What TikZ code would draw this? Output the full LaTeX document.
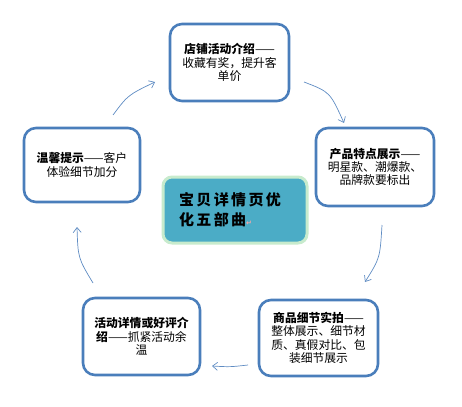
\documentclass[tikz,border=0pt]{standalone}
\usepackage{fontspec}
\newfontfamily\cjk{Noto Sans CJK SC}
\newfontfamily\dvs{DejaVu Sans}
\usetikzlibrary{arrows.meta}
\definecolor{boxblue}{RGB}{74,126,187}
\definecolor{arrblue}{RGB}{95,140,195}
\definecolor{teal}{RGB}{75,172,198}
\definecolor{lgreen}{RGB}{200,235,205}
\newcommand{\chgap}{\kern2.4pt}
\tikzset{
  box/.style={draw=boxblue, line width=2.6pt, fill=white, rounded corners=12pt,
    align=center, font=\cjk\fontsize{11.8}{13.3}\selectfont, inner sep=2pt},
  centerbox/.style={draw=lgreen, line width=3pt, fill=teal, rounded corners=9pt,
    align=left, font=\cjk\bfseries\fontsize{15}{20}\selectfont, inner xsep=16pt},
  arr/.style={draw=arrblue, line width=0.7pt, -{Straight Barb[length=5pt,width=8pt]}}
}
\begin{document}
\begin{tikzpicture}[x=1pt,y=-1pt]
\useasboundingbox (0,0) rectangle (462,406);
\node[box, minimum width=119, minimum height=77] (top) at (229.5,62.5)
  {\textbf{店铺活动介绍}——\\收藏有奖，提升客\\单价};
\node[box, minimum width=118, minimum height=78] (right) at (375,167)
  {\textbf{产品特点展示}——\\明星款、潮爆款、\\品牌款要标出};
\node[box, minimum width=119, minimum height=76] (br) at (318.5,338)
  {\textbf{商品细节实拍}——\\整体展示、细节材\\质、真假对比、包\\装细节展示};
\node[box, minimum width=117, minimum height=77] (bl) at (141.5,336.5)
  {\textbf{活动详情或好评介}\\\textbf{绍}——抓紧活动余\\温};
\node[box, minimum width=116, minimum height=74] (left) at (82,165)
  {\textbf{温馨提示}——客户\\体验细节加分};
\node[centerbox, minimum width=144, minimum height=66, text width=112] (center) at (235,210)
  {宝\chgap 贝\chgap 详\chgap 情\chgap 页\chgap 优\\化\chgap 五\chgap 部\chgap 曲{\dvs\fontsize{7}{8}\selectfont\color{red!35}↵}};
\coordinate (a1) at (304,82);  \coordinate (b1) at (344,123);
\coordinate (a2) at (382,225); \coordinate (b2) at (365,282);
\coordinate (a3) at (248,365); \coordinate (b3) at (212,366);
\coordinate (a4) at (93,283);  \coordinate (b4) at (77,227);
\coordinate (a5) at (113,115); \coordinate (b5) at (155,82);
\draw[arr] (a1) .. controls (330,92) .. (b1);
\draw[arr] (a2) .. controls (380,258) .. (b2);
\draw[arr] (a3) .. controls (230,367) .. (b3);
\draw[arr] (a4) .. controls (78,258) .. (b4);
\draw[arr] (a5) .. controls (128,95) .. (b5);
\end{tikzpicture}
\end{document}
